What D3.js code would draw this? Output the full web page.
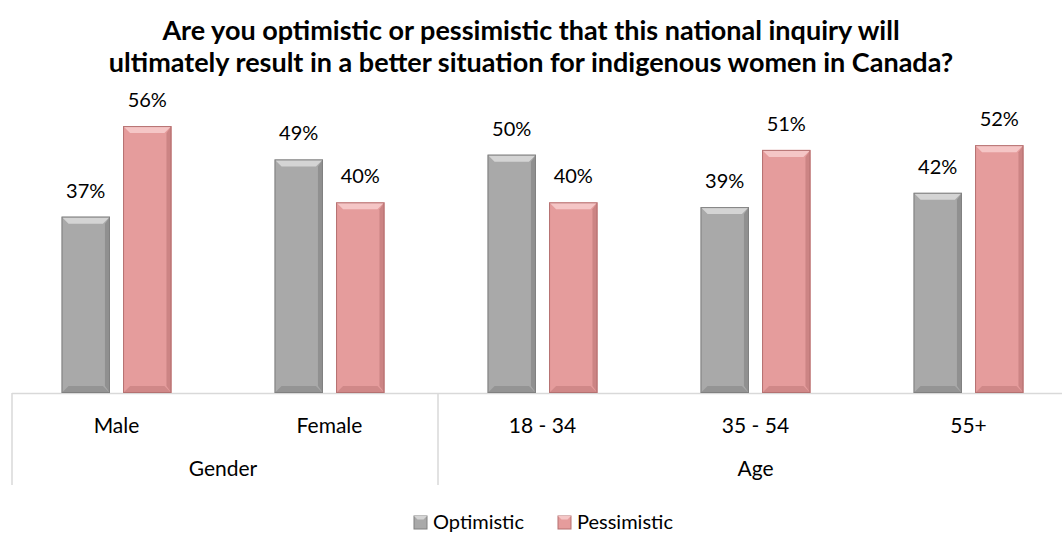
<!DOCTYPE html>
<html>
<head>
<meta charset="utf-8">
<script src="https://cdn.jsdelivr.net/npm/d3@7"></script>
<style>
  html, body { margin: 0; padding: 0; background: #fff; }
  svg { display: block; font-family: Lato, "Open Sans", sans-serif; }
</style>
</head>
<body>
<div id="chart"></div>
<script>
// ---- data ----
const categories = ['Male', 'Female', '18 - 34', '35 - 54', '55+'];
const groups = [
  { name: 'Gender', from: 0, to: 2 },
  { name: 'Age', from: 2, to: 5 }
];
const seriesNames = ['Optimistic', 'Pessimistic'];
const optimistic = [37, 49, 50, 39, 42];
const pessimistic = [56, 40, 40, 51, 52];
const titleLines = [
  'Are you optimistic or pessimistic that this national inquiry will',
  'ultimately result in a better situation for indigenous women in Canada?'
];

// ---- layout ----
const W = 1062, H = 533;
const baseY = 393;
const colors = {
  Optimistic: { main: '#a9a9a9', light: '#d4d4d4', dark: '#8c8c8c', edge: '#808080' },
  Pessimistic: { main: '#e59c9c', light: '#f5c6c6', dark: '#c88080', edge: '#b57171' }
};

const svg = d3.select('#chart').append('svg')
  .attr('width', W).attr('height', H);

// title
svg.append('g').selectAll('text')
  .data(titleLines)
  .enter().append('text')
  .attr('x', 531)
  .attr('y', (d, i) => 40 + i * 32)
  .attr('text-anchor', 'middle')
  .style('font-weight', 'bold')
  .style('font-size', '27px')
  .style('fill', '#000')
  .text(d => d);

// scales
const x0 = d3.scaleBand()
  .domain(categories)
  .range([10, 1075])
  .paddingInner(0.484)
  .paddingOuter(0.242);

const x1 = d3.scaleBand()
  .domain(seriesNames)
  .range([0, x0.bandwidth()])
  .paddingInner(0.213);

const y = d3.scaleLinear().domain([0, 60]).range([baseY, 107]);

const rows = categories.map((c, i) => ({
  cat: c,
  values: [
    { key: 'Optimistic', v: optimistic[i] },
    { key: 'Pessimistic', v: pessimistic[i] }
  ]
}));

// axis lines
const axis = svg.append('g').attr('stroke', '#d9d9d9').attr('stroke-width', 1.5);
axis.append('line')
  .attr('x1', 12).attr('x2', W)
  .attr('y1', baseY + 0.5).attr('y2', baseY + 0.5);
const step = x0.step();
axis.selectAll('line.div')
  .data(groups.map(g => g.from))
  .enter().append('line')
  .attr('class', 'div')
  .attr('x1', d => 12 + d * step).attr('x2', d => 12 + d * step)
  .attr('y1', baseY).attr('y2', 485);

// bars (bevelled look)
const bw = x1.bandwidth();
const bev = 7;
const groupSel = svg.append('g').selectAll('g')
  .data(rows)
  .enter().append('g')
  .attr('transform', d => `translate(${x0(d.cat)},0)`);

const bar = groupSel.selectAll('g.bar')
  .data(d => d.values)
  .enter().append('g')
  .attr('class', 'bar')
  .attr('transform', d => `translate(${x1(d.key)},${y(d.v)})`);

bar.each(function(d) {
  const g = d3.select(this);
  const h = baseY - y(d.v);
  const c = colors[d.key];
  g.append('rect').attr('width', bw).attr('height', h).attr('fill', c.main);
  // top bevel
  g.append('path').attr('d', `M0,0 L${bw},0 L${bw - bev},${bev} L${bev},${bev} Z`).attr('fill', c.light);
  // right bevel
  g.append('path').attr('d', `M${bw},0 L${bw},${h} L${bw - bev + 2},${h - bev} L${bw - bev + 2},${bev} Z`).attr('fill', c.dark).attr('opacity', 0.85);
  // bottom bevel
  g.append('path').attr('d', `M0,${h} L${bev},${h - bev} L${bw - bev},${h - bev} L${bw},${h} Z`).attr('fill', c.dark).attr('opacity', 0.7);
  g.append('rect').attr('x', 0.5).attr('y', 0.5).attr('width', bw - 1).attr('height', h - 1)
    .attr('fill', 'none').attr('stroke', c.edge).attr('stroke-width', 1);
});

// value labels
bar.append('text')
  .attr('x', bw / 2)
  .attr('y', -19)
  .attr('text-anchor', 'middle')
  .style('font-size', '20px')
  .style('fill', '#000')
  .text(d => d.v + '%');

// category labels
svg.append('g').selectAll('text')
  .data(categories)
  .enter().append('text')
  .attr('x', d => x0(d) + x0.bandwidth() / 2)
  .attr('y', 433)
  .attr('text-anchor', 'middle')
  .style('font-size', '21px')
  .text(d => d);

// group labels
svg.append('g').selectAll('text')
  .data(groups)
  .enter().append('text')
  .attr('x', d => 10 + (d.from + d.to) / 2 * step)
  .attr('y', 476)
  .attr('text-anchor', 'middle')
  .style('font-size', '21px')
  .text(d => d.name);

// legend
const legendX = [414, 558];
const leg = svg.append('g').selectAll('g')
  .data(seriesNames)
  .enter().append('g')
  .attr('transform', (d, i) => `translate(${legendX[i]},516)`);
leg.append('rect')
  .attr('width', 13).attr('height', 13)
  .attr('fill', d => colors[d].main)
  .attr('stroke', d => colors[d].edge);
leg.append('path')
  .attr('d', 'M0,0 L13,0 L9.5,3.5 L3.5,3.5 Z')
  .attr('fill', d => colors[d].light);
leg.append('text')
  .attr('x', 19).attr('y', 13)
  .style('font-size', '20px')
  .text(d => d);
</script>
</body>
</html>
